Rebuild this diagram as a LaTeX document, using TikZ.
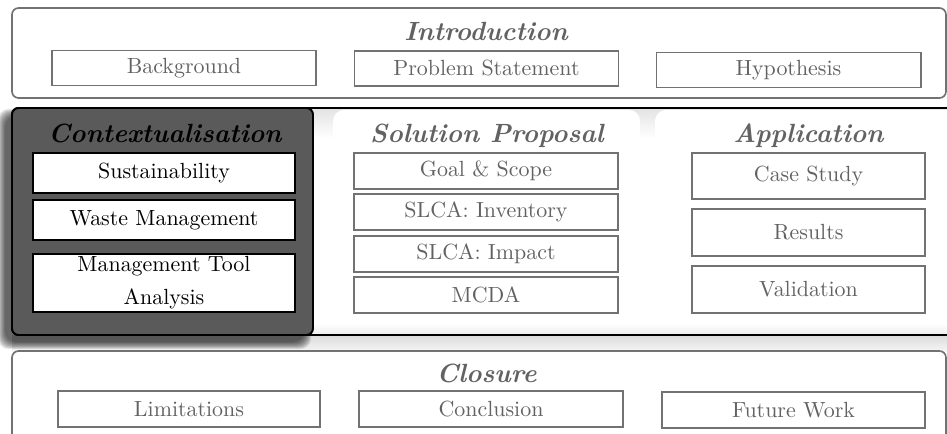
\documentclass[tikz,border=0pt]{standalone}
\definecolor{fadetext}{HTML}{626262}
\definecolor{fadeline}{HTML}{727272}
\definecolor{ctxfill}{HTML}{5A5A5A}
\def\pxu{0.456pt}
\begin{document}
\begin{tikzpicture}[x=0.456pt,y=-0.456pt,
  outerbox/.style={draw=fadeline, line width=0.75pt, rounded corners=3pt, fill=white},
  fadebox/.style={draw=fadeline, line width=0.9pt, fill=white, text=fadetext, inner sep=0pt,
     minimum width=264*\pxu, minimum height=35*\pxu},
  ctxbox/.style={draw=black, line width=0.9pt, fill=white, text=black, inner sep=0pt,
     minimum width=262*\pxu, minimum height=40*\pxu, align=center},
  apbox/.style={fadebox, minimum width=233*\pxu, minimum height=47*\pxu},
  fadetitle/.style={text=fadetext, font=\large\bfseries\itshape, anchor=base, inner sep=0pt},
  ctxtitle/.style={text=black, font=\large\bfseries\itshape, anchor=base, inner sep=0pt}]
\useasboundingbox (0,0) rectangle (947,434);
\clip (0,0) rectangle (947,434);

% Introduction
\draw[outerbox] (12,8) rectangle (946,98);
\node[fadetitle] (intro) at (486,41) {Introduction};
\node[fadebox] (bg) at (184,68) {Background};
\node[fadebox] (ps) at (486.5,68.5) {Problem Statement};
\node[fadebox] (hy) at (788.5,70) {Hypothesis};

% shadow strip below middle band
\shade[top color=gray!28, bottom color=gray!8] (12,335) rectangle (947,351);

% middle band
\begin{scope}
\clip[rounded corners=3pt] (12,108) rectangle (960,335);
\fill[white] (12,108) rectangle (960,335);
\shade[top color=gray!22, bottom color=white] (12,108) rectangle (960,138);
\fill[white, rounded corners=5pt] (333,110) rectangle (640,345);
\fill[white, rounded corners=5pt] (655,110) rectangle (970,345);
\shade[top color=white, bottom color=gray!14] (12,323) rectangle (960,335);
\end{scope}
\draw[black, line width=0.9pt, rounded corners=3pt] (12,108) rectangle (960,335);

% shadow of contextualisation
\foreach \i in {0,...,9}{
  \fill[black, opacity=0.085, rounded corners=5pt]
    ({12-7-\i*0.8},{108+8-\i*0.8}) rectangle ({313-9+\i*0.8},{335+7+\i*0.8});
}
% Contextualisation
\draw[draw=black, line width=0.9pt, fill=ctxfill, rounded corners=3pt] (12,108) rectangle (313,335);
\node[ctxtitle] (ctx) at (165,143) {Contextualisation};
\node[ctxbox] (sus) at (164,173) {Sustainability};
\node[ctxbox] (wm) at (164,220) {Waste Management};
\node[ctxbox, minimum height=58*\pxu] (mta) at (164,283)
  {Management Tool\\[3pt]Analysis};

% Solution Proposal
\node[fadetitle] (sol) at (487,143) {Solution Proposal};
\node[fadebox, minimum height=36*\pxu] (gs) at (486,171) {Goal \& Scope};
\node[fadebox, minimum height=36*\pxu] (inv) at (486,212) {SLCA: Inventory};
\node[fadebox, minimum height=36*\pxu] (imp) at (486,254) {SLCA: Impact};
\node[fadebox, minimum height=36*\pxu] (mcda) at (486,295) {MCDA};

% Application
\node[fadetitle] (app) at (808.5,143) {Application};
\node[apbox, minimum height=46*\pxu] (cs) at (808.5,176) {Case Study};
\node[apbox] (res) at (808.5,232.5) {Results};
\node[apbox] (val) at (808.5,289.5) {Validation};

% Closure
\draw[outerbox] (12,351) rectangle (946,450);
\node[fadetitle] (clo) at (486.5,382) {Closure};
\node[fadebox, minimum width=262*\pxu, minimum height=36*\pxu] (lim) at (189,409) {Limitations};
\node[fadebox, minimum height=36*\pxu] (con) at (491,409) {Conclusion};
\node[fadebox, minimum width=263*\pxu, minimum height=36*\pxu] (fw) at (793.5,410) {Future Work};
\end{tikzpicture}
\end{document}
